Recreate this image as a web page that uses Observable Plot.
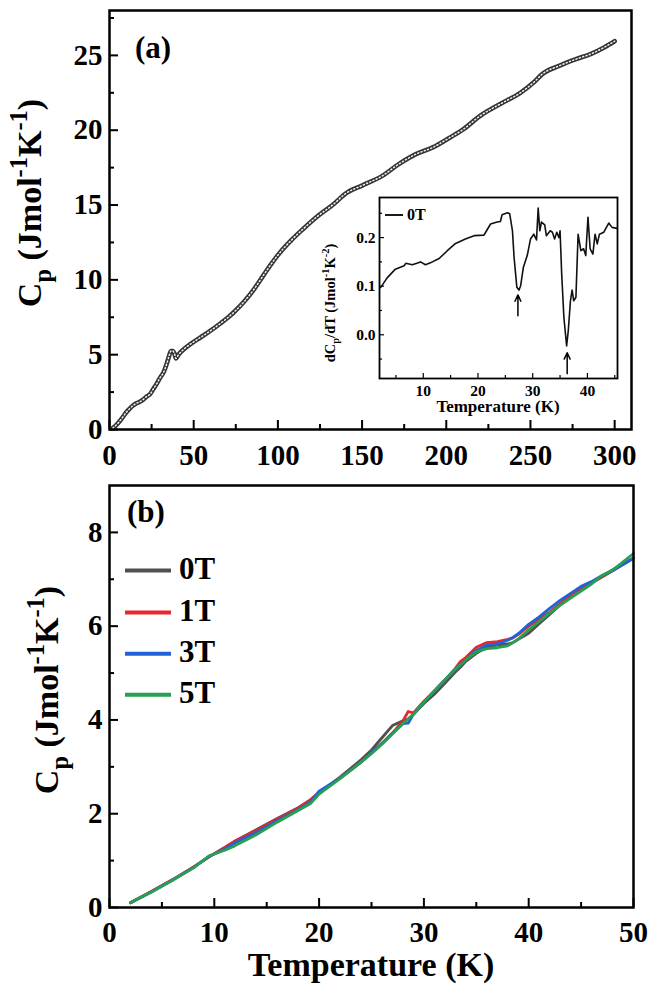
<!DOCTYPE html>
<html><head><meta charset="utf-8">
<script src="https://cdn.jsdelivr.net/npm/d3@7"></script>
<script src="https://cdn.jsdelivr.net/npm/@observablehq/plot@0.6"></script>
<style>
body{margin:0;background:#fff;}
#wrap{position:relative;width:654px;height:988px;overflow:hidden;background:#fff;}
#wrap svg{position:absolute;}
</style></head><body><div id="wrap"></div>
<script>
// ---------- Panel (a): Cp vs T, 0 T ----------
const tA = [2, 4, 6, 8, 10, 12, 14, 16, 18, 20, 22, 24, 26, 28, 30, 32, 34, 35.5, 36.5, 37.5, 38.5, 39.5, 41, 44, 48, 54, 60, 66, 70, 74, 80, 86, 92, 96, 100, 108, 115, 123, 133, 140, 150, 162, 172, 182, 192, 202, 210, 220, 232, 244, 252, 257, 267, 277, 286, 294, 300];
const cpA = [0.1, 0.3, 0.55, 0.85, 1.15, 1.4, 1.6, 1.75, 1.85, 2.0, 2.2, 2.35, 2.7, 3.05, 3.45, 3.8, 4.4, 4.95, 5.25, 5.25, 5.1, 4.75, 5.0, 5.35, 5.7, 6.15, 6.6, 7.1, 7.45, 7.85, 8.55, 9.4, 10.4, 11.05, 11.65, 12.65, 13.4, 14.2, 15.05, 15.75, 16.3, 16.95, 17.75, 18.4, 18.85, 19.5, 20.05, 20.95, 21.75, 22.5, 23.2, 23.75, 24.3, 24.75, 25.1, 25.55, 25.95];
const xTicksA = [0, 50, 100, 150, 200, 250, 300];
const xMinorA = [25, 75, 125, 175, 225, 275];
const yTicksA = [0, 5, 10, 15, 20, 25];
const yMinorA = [2.5, 7.5, 12.5, 17.5, 22.5, 27.5];

// ---------- Inset: dCp/dT ----------
const tIn = [2.2, 3.4, 4.9, 6.5, 6.8, 8.0, 9.5, 10.4, 11.3, 12.9, 14.4, 15.9, 17.7, 19.3, 21.1, 21.4, 22.3, 23.5, 24.1, 24.4, 25.4, 25.8, 26.3, 26.6, 27.1, 27.5, 27.8, 28.3, 29.0, 29.6, 30.2, 30.7, 31.0, 31.3, 31.6, 32.2, 32.5, 33.2, 33.6, 34.0, 34.4, 34.8, 35.0, 35.3, 35.7, 36.2, 36.5, 36.9, 37.2, 37.5, 37.9, 38.3, 38.8, 39.3, 39.7, 40.1, 40.5, 41.0, 41.4, 41.8, 42.2, 43.0, 43.9, 44.5, 45.4];
const dIn = [0.097, 0.117, 0.135, 0.142, 0.147, 0.144, 0.150, 0.144, 0.148, 0.157, 0.173, 0.188, 0.197, 0.204, 0.205, 0.211, 0.228, 0.232, 0.233, 0.247, 0.251, 0.249, 0.214, 0.159, 0.098, 0.092, 0.101, 0.139, 0.163, 0.197, 0.207, 0.195, 0.261, 0.214, 0.232, 0.226, 0.204, 0.214, 0.211, 0.197, 0.211, 0.200, 0.214, 0.125, 0.036, -0.023, 0.008, 0.070, 0.092, 0.070, 0.077, 0.207, 0.173, 0.177, 0.163, 0.242, 0.177, 0.166, 0.207, 0.187, 0.207, 0.211, 0.230, 0.221, 0.219];
const xTicksIn = [10, 20, 30, 40];
const xMinorIn = [5, 15, 25, 35, 45];
const yTicksIn = [0.0, 0.1, 0.2];
const yMinorIn = [-0.05, 0.05, 0.15, 0.25];
const arrowT = [27.3, 36.3];
const arrowFrom = [0.039, -0.08];
const arrowTo = [0.082, -0.037];

// ---------- Panel (b): Cp vs T at several fields ----------
const tB = [2, 4, 6, 8, 9.5, 11, 12, 14, 16, 18, 19.2, 20, 22, 24, 25, 26, 27, 28, 28.5, 29, 30, 31, 32, 33, 33.5, 34, 35, 36, 37, 38, 38.5, 39, 40, 41, 42, 43, 44, 45, 46, 47, 48, 48.5, 50];
const cp0T = [0.10, 0.34, 0.59, 0.86, 1.08, 1.28, 1.42, 1.66, 1.90, 2.13, 2.30, 2.45, 2.78, 3.15, 3.36, 3.62, 3.88, 3.98, 4.02, 4.12, 4.35, 4.55, 4.78, 5.02, 5.13, 5.25, 5.42, 5.55, 5.60, 5.62, 5.65, 5.72, 5.85, 6.05, 6.25, 6.45, 6.62, 6.80, 6.92, 7.05, 7.18, 7.25, 7.45];
const cp1T = [0.10, 0.34, 0.59, 0.86, 1.08, 1.28, 1.42, 1.64, 1.88, 2.11, 2.30, 2.45, 2.76, 3.10, 3.30, 3.50, 3.72, 3.98, 4.18, 4.15, 4.40, 4.62, 4.85, 5.10, 5.25, 5.33, 5.55, 5.65, 5.67, 5.72, 5.75, 5.82, 6.00, 6.15, 6.30, 6.48, 6.65, 6.82, 6.94, 7.06, 7.20, 7.27, 7.45];
const cp3T = [0.10, 0.33, 0.58, 0.85, 1.09, 1.25, 1.38, 1.60, 1.85, 2.08, 2.25, 2.48, 2.76, 3.10, 3.30, 3.50, 3.72, 3.92, 3.93, 4.12, 4.38, 4.62, 4.85, 5.08, 5.18, 5.28, 5.48, 5.60, 5.62, 5.70, 5.76, 5.84, 6.04, 6.20, 6.38, 6.55, 6.70, 6.85, 6.95, 7.08, 7.18, 7.25, 7.45];
const cp5T = [0.10, 0.33, 0.58, 0.84, 1.10, 1.22, 1.32, 1.55, 1.82, 2.07, 2.22, 2.42, 2.75, 3.10, 3.28, 3.48, 3.70, 3.92, 4.02, 4.12, 4.38, 4.62, 4.85, 5.08, 5.18, 5.28, 5.45, 5.52, 5.54, 5.58, 5.65, 5.72, 5.92, 6.10, 6.28, 6.45, 6.60, 6.75, 6.90, 7.08, 7.20, 7.28, 7.55];
const fields = ["0T", "1T", "3T", "5T"];
const fieldColors = ["#505050", "#e8262b", "#2162d8", "#27a050"];
const xTicksB = [0, 10, 20, 30, 40, 50];
const xMinorB = [5, 15, 25, 35, 45];
const yTicksB = [0, 2, 4, 6, 8];
const yMinorB = [1, 3, 5, 7];

// ---------- helpers ----------
const FONT = '"Liberation Serif","Times New Roman",serif';
const wrap = document.getElementById("wrap");
function place(svg, left, top) {
  svg.style.left = left + "px"; svg.style.top = top + "px";
  wrap.appendChild(svg);
}
function richText(svg, {x, y, rotate = 0, size, parts, anchor = "middle"}) {
  const t = d3.select(svg).append("text")
    .attr("transform", `translate(${x},${y}) rotate(${rotate})`)
    .attr("text-anchor", anchor)
    .attr("font-family", FONT).attr("font-weight", "bold")
    .attr("font-size", size).attr("fill", "#000");
  let cur = 0;
  for (const [txt, kind] of parts) {
    const shift = kind === "sub" ? 0.3 : kind === "sup" ? -0.42 : 0;
    const s = t.append("tspan").text(txt);
    const dy = (shift - cur) * size;
    if (dy) s.attr("dy", dy);
    if (kind) s.attr("font-size", size * 0.72);
    cur = shift;
  }
  return t;
}
function plainText(svg, {x, y, size, text, anchor = "start", baseline = null}) {
  const t = d3.select(svg).append("text")
    .attr("x", x).attr("y", y).attr("text-anchor", anchor)
    .attr("font-family", FONT).attr("font-weight", "bold")
    .attr("font-size", size).attr("fill", "#000").text(text);
  if (baseline) t.attr("dominant-baseline", baseline);
  return t;
}
function ticks(xMaj, xMin, yMaj, yMin, innerW, innerH, lMaj, lMin, sw) {
  return [
    Plot.ruleX(xMaj, {x: d => d, insetTop: innerH - lMaj, stroke: "#000", strokeWidth: sw}),
    Plot.ruleX(xMin, {x: d => d, insetTop: innerH - lMin, stroke: "#000", strokeWidth: sw}),
    Plot.ruleY(yMaj, {y: d => d, insetRight: innerW - lMaj, stroke: "#000", strokeWidth: sw}),
    Plot.ruleY(yMin, {y: d => d, insetRight: innerW - lMin, stroke: "#000", strokeWidth: sw})
  ];
}
const baseStyle = (fs) => ({fontFamily: FONT, fontWeight: "bold", fontSize: fs, background: "transparent", overflow: "visible"});

// ---------- Panel (a) ----------
const dataA = tA.map((t, i) => ({T: t, Cp: cpA[i]}));
{
  const W = 654, H = 480, mL = 109, mR = 23, mT = 10, mB = 51;
  const svg = Plot.plot({
    width: W, height: H, marginLeft: mL, marginRight: mR, marginTop: mT, marginBottom: mB,
    style: baseStyle("29px"),
    x: {domain: [0, 310]},
    y: {domain: [0, 28]},
    marks: [
      Plot.axisX({ticks: xTicksA, tickSize: 0, tickPadding: 15, label: null}),
      Plot.axisY({ticks: yTicksA, tickSize: 0, tickPadding: 7, label: null}),
      ...ticks(xTicksA, xMinorA, yTicksA, yMinorA, W - mL - mR, H - mT - mB, 9, 5, 2),
      Plot.line(dataA, {x: "T", y: "Cp", curve: "monotone-x", stroke: "#333", strokeWidth: 4.6, strokeLinejoin: "round"}),
      Plot.line(dataA, {x: "T", y: "Cp", curve: "monotone-x", stroke: "#f2f2f2", strokeWidth: 1.5, strokeDasharray: "1.1,2.4"}),
      Plot.frame({stroke: "#000", strokeWidth: 2.5})
    ]
  });
  place(svg, 0, 0);
  richText(svg, {x: 41, y: 203, rotate: -90, size: 34,
    parts: [["C"], ["p", "sub"], [" (Jmol"], ["-1", "sup"], ["K"], ["-1", "sup"], [")"]]});
  plainText(svg, {x: 135, y: 58, size: 31, text: "(a)"});
}

// ---------- Inset ----------
const dataIn = tIn.map((t, i) => ({T: t, d: dIn[i]}));
const arrows = arrowT.map((t, i) => ({T: t, y1: arrowFrom[i], y2: arrowTo[i]}));
{
  const W = 310, H = 232, mL = 61, mR = 11, mT = 7, mB = 44;
  const svg = Plot.plot({
    width: W, height: H, marginLeft: mL, marginRight: mR, marginTop: mT, marginBottom: mB,
    style: baseStyle("15.5px"),
    x: {domain: [2, 45.5]},
    y: {domain: [-0.09, 0.2825]},
    marks: [
      Plot.axisX({ticks: xTicksIn, tickSize: 0, tickPadding: 6, label: null}),
      Plot.axisY({ticks: yTicksIn, tickSize: 0, tickPadding: 4, label: null, tickFormat: d3.format(".1f")}),
      ...ticks(xTicksIn, xMinorIn, yTicksIn, yMinorIn, W - mL - mR, H - mT - mB, 5, 3, 1.2),
      Plot.line(dataIn, {x: "T", y: "d", stroke: "#111", strokeWidth: 1.6}),
      Plot.arrow(arrows, {x: "T", y1: "y1", y2: "y2", stroke: "#000", strokeWidth: 1.5, headLength: 7, headAngle: 50}),
      Plot.frame({stroke: "#000", strokeWidth: 1.8})
    ]
  });
  place(svg, 318, 190);
  richText(svg, {x: 17, y: 113, rotate: -90, size: 14.5,
    parts: [["dC"], ["p", "sub"], ["/dT (Jmol"], ["-1", "sup"], ["K"], ["-2", "sup"], [")"]]});
  plainText(svg, {x: 180, y: 222, size: 17, text: "Temperature (K)", anchor: "middle"});
  d3.select(svg).append("line").attr("x1", 67).attr("x2", 85).attr("y1", 25).attr("y2", 25)
    .attr("stroke", "#000").attr("stroke-width", 1.8);
  plainText(svg, {x: 89, y: 26, size: 16, text: "0T", baseline: "middle"});
}

// ---------- Panel (b) ----------
const seriesB = [cp0T, cp1T, cp3T, cp5T];
const dataB = fields.flatMap((f, k) => tB.map((t, i) => ({T: t, Cp: seriesB[k][i], field: f})));
{
  const W = 654, H = 508, mL = 109, mR = 21, mT = 5, mB = 81;
  const svg = Plot.plot({
    width: W, height: H, marginLeft: mL, marginRight: mR, marginTop: mT, marginBottom: mB,
    style: baseStyle("29px"),
    x: {domain: [0, 50]},
    y: {domain: [0, 9]},
    color: {domain: fields, range: fieldColors},
    marks: [
      Plot.axisX({ticks: xTicksB, tickSize: 0, tickPadding: 14, label: null}),
      Plot.axisY({ticks: yTicksB, tickSize: 0, tickPadding: 7, label: null}),
      ...ticks(xTicksB, xMinorB, yTicksB, yMinorB, W - mL - mR, H - mT - mB, 9, 5, 2),
      Plot.line(dataB, {x: "T", y: "Cp", z: "field", stroke: "field", strokeWidth: 2.8, strokeLinejoin: "round"}),
      Plot.frame({stroke: "#000", strokeWidth: 2.5})
    ]
  });
  place(svg, 0, 480);
  richText(svg, {x: 58, y: 210, rotate: -90, size: 34,
    parts: [["C"], ["p", "sub"], [" (Jmol"], ["-1", "sup"], ["K"], ["-1", "sup"], [")"]]});
  plainText(svg, {x: 371, y: 496, size: 34, text: "Temperature (K)", anchor: "middle"});
  plainText(svg, {x: 127, y: 42, size: 31, text: "(b)"});
  const rows = [90.6, 132.5, 173.8, 214.8];
  fields.forEach((f, k) => {
    d3.select(svg).append("line").attr("x1", 125).attr("x2", 171).attr("y1", rows[k]).attr("y2", rows[k])
      .attr("stroke", fieldColors[k]).attr("stroke-width", 4);
    plainText(svg, {x: 179, y: rows[k] + 1, size: 31, text: f, baseline: "middle"});
  });
}
</script></body></html>
